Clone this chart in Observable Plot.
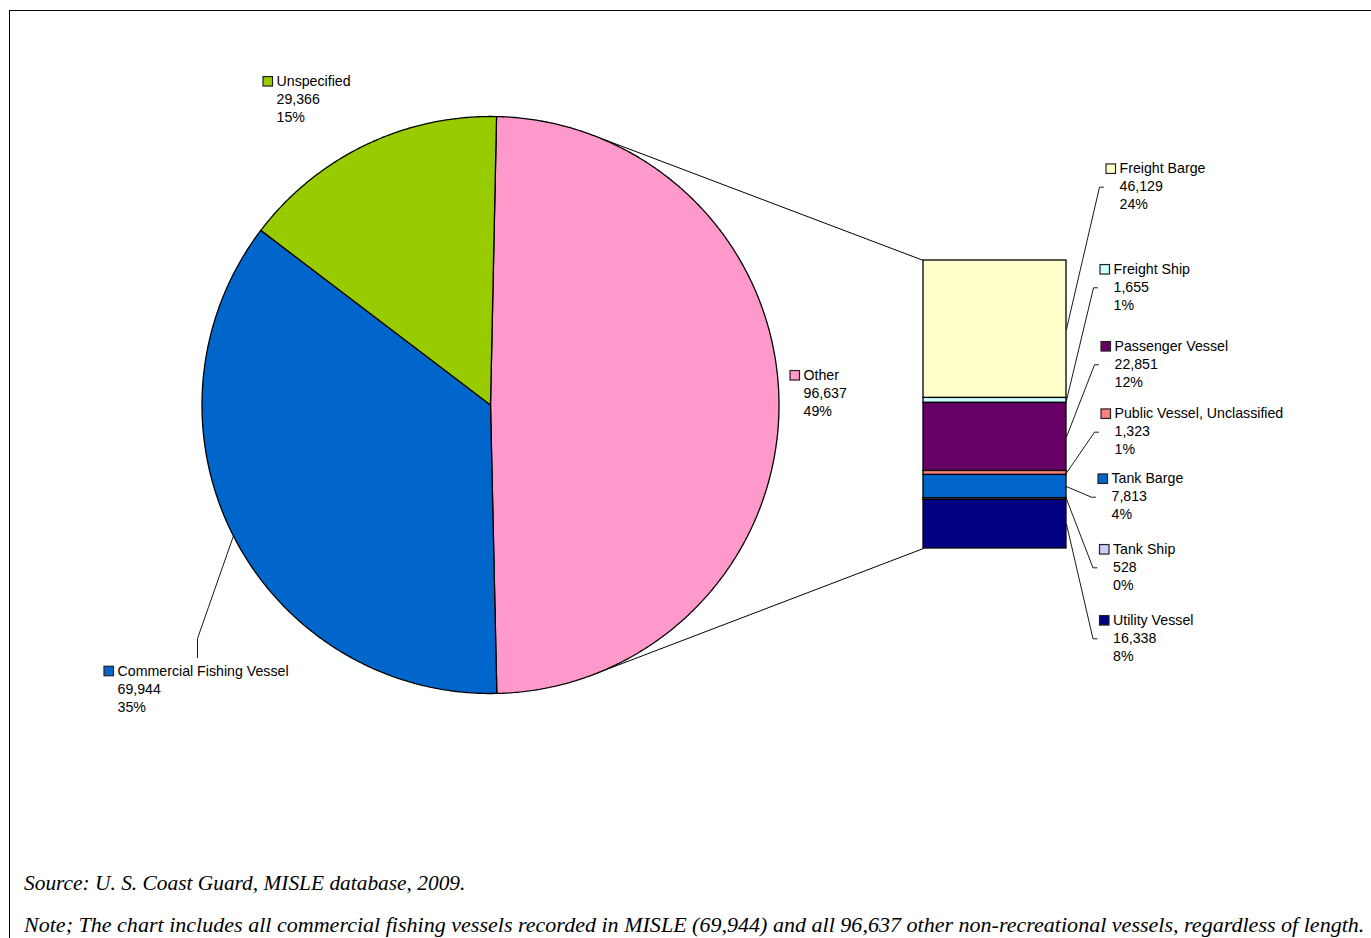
<!DOCTYPE html>
<html>
<head>
<meta charset="utf-8">
<script src="https://cdn.jsdelivr.net/npm/d3@7"></script>
<script src="https://cdn.jsdelivr.net/npm/@observablehq/plot@0.6"></script>
<style>
html, body { margin: 0; padding: 0; background: #fff; overflow: hidden; width: 1371px; height: 938px; }
#frame { position: absolute; left: 9px; top: 10px; width: 1400px; height: 1000px; border-top: 1px solid #000; border-left: 1px solid #000; }
#chart { position: absolute; left: 0; top: 0; }
.cap { position: absolute; left: 24px; font-family: "Liberation Serif", "Times New Roman", serif; font-style: italic; font-size: 21px; line-height: 24px; white-space: nowrap; color: #000; transform: scaleX(1.05); transform-origin: 0 50%; }
#source { transform: scaleX(1.018); }
</style>
</head>
<body>
<div id="frame"></div>
<div id="chart"></div>
<div class="cap" id="source" style="top:871px">Source: U. S. Coast Guard, MISLE database, 2009.</div>
<div class="cap" id="note" style="top:913px">Note; The chart includes all commercial fishing vessels recorded in MISLE (69,944) and all 96,637 other non-recreational vessels, regardless of length.</div>
<script>
// ---------- DATA ----------
const pieNames = ["Other", "Commercial Fishing Vessel", "Unspecified"];
const pieValues = [96637, 69944, 29366];
const piePct = ["49%", "35%", "15%"];

const barNames = ["Freight Barge", "Freight Ship", "Passenger Vessel", "Public Vessel, Unclassified", "Tank Barge", "Tank Ship", "Utility Vessel"];
const barValues = [46129, 1655, 22851, 1323, 7813, 528, 16338];
const barPct = ["24%", "1%", "12%", "1%", "4%", "0%", "8%"];

// ---------- STYLE ----------
const colors = {
  "Other": "#FF99CC",
  "Commercial Fishing Vessel": "#0066CC",
  "Unspecified": "#99CC00",
  "Freight Barge": "#FFFFCC",
  "Freight Ship": "#CCFFFF",
  "Passenger Vessel": "#660066",
  "Public Vessel, Unclassified": "#FF8080",
  "Tank Barge": "#0066CC",
  "Tank Ship": "#CCCCFF",
  "Utility Vessel": "#000080"
};

// ---------- LAYOUT ----------
const W = 1371, H = 860;
const pieL = {cx: 490, cy: 404.5, r: 288.5, start: 1.2, linkTop: 21, linkBottom: 160};
const barL = {x1: 923, x2: 1066, y1: 260, y2: 548};
const labelL = {
  "Unspecified": {x: 276, y: 99.3},
  "Other": {x: 803, y: 393.3},
  "Commercial Fishing Vessel": {x: 117, y: 689, leader: [[197, 638], [197, 657]]},
  "Freight Barge": {x: 1119, y: 186.7},
  "Freight Ship": {x: 1113, y: 287.3},
  "Passenger Vessel": {x: 1114, y: 364.3},
  "Public Vessel, Unclassified": {x: 1114, y: 431.7},
  "Tank Barge": {x: 1111, y: 496.7},
  "Tank Ship": {x: 1112.5, y: 567.3},
  "Utility Vessel": {x: 1112.5, y: 638.3}
};
const lineGap = 18;
const labelSize = 14.2;

// ---------- GEOMETRY FROM DATA ----------
const rad = (a) => a * Math.PI / 180;
const onPie = (a) => [pieL.cx + pieL.r * Math.sin(rad(a)), pieL.cy - pieL.r * Math.cos(rad(a))];
const pieTotal = d3.sum(pieValues);
const slicePts = [];
const sliceMid = {};
let a0 = pieL.start;
pieNames.forEach((n, i) => {
  const span = pieValues[i] / pieTotal * 360;
  sliceMid[n] = a0 + span / 2;
  slicePts.push({name: n, x: pieL.cx, y: pieL.cy});
  const steps = Math.ceil(span / 0.4);
  for (let k = 0; k <= steps; k++) {
    const [x, y] = onPie(a0 + span * k / steps);
    slicePts.push({name: n, x, y});
  }
  slicePts.push({name: n, x: pieL.cx, y: pieL.cy});
  a0 += span;
});

const barTotal = d3.sum(barValues);
const kBar = (barL.y2 - barL.y1) / barTotal;
let cum = 0;
const segs = barNames.map((n, i) => {
  const y1 = barL.y1 + cum * kBar;
  cum += barValues[i];
  const y2 = barL.y1 + cum * kBar;
  return {name: n, value: barValues[i], pct: barPct[i], y1, y2, mid: (y1 + y2) / 2};
});

const labels = [
  ...pieNames.map((n, i) => ({name: n, value: pieValues[i], pct: piePct[i]})),
  ...segs.map(s => ({name: s.name, value: s.value, pct: s.pct}))
].map(d => ({...d, x: labelL[d.name].x, y: labelL[d.name].y}));

const fmt = d3.format(",");

// leader lines
const leaders = [];
segs.forEach(s => {
  const L = labelL[s.name];
  leaders.push({id: s.name, x: barL.x2, y: s.mid});
  leaders.push({id: s.name, x: L.x - 20, y: L.y});
  leaders.push({id: s.name, x: L.x - 16, y: L.y});
});
{
  const n = "Commercial Fishing Vessel";
  const [px, py] = onPie(sliceMid[n]);
  leaders.push({id: n, x: px, y: py});
  labelL[n].leader.forEach(([x, y]) => leaders.push({id: n, x, y}));
}
// pie-to-bar connectors
const [tx, ty] = onPie(pieL.linkTop);
const [bx, by] = onPie(pieL.linkBottom);
const connectors = [
  {id: "top", x: tx, y: ty}, {id: "top", x: barL.x1, y: barL.y1},
  {id: "bottom", x: bx, y: by}, {id: "bottom", x: barL.x1, y: barL.y2}
];

const font = "'Liberation Sans', Arial, Helvetica, sans-serif";

const chart = Plot.plot({
  width: W,
  height: H,
  margin: 0,
  x: {domain: [0, W], range: [0, W], axis: null},
  y: {domain: [0, H], range: [0, H], axis: null},
  color: {type: "identity"},
  style: {background: "transparent", fontFamily: font, fontSize: `${labelSize}px`, overflow: "visible"},
  marks: [
    Plot.line(connectors, {x: "x", y: "y", z: "id", stroke: "#000", strokeWidth: 1, curve: "linear"}),
    Plot.line(slicePts, {x: "x", y: "y", z: "name", fill: d => colors[d.name], stroke: "#000", strokeWidth: 1.3, strokeLinejoin: "miter", curve: "linear"}),
    Plot.rect(segs, {x1: () => barL.x1, x2: () => barL.x2, y1: "y1", y2: "y2", fill: d => colors[d.name], stroke: "#000", strokeWidth: 1.3}),
    Plot.line(leaders, {x: "x", y: "y", z: "id", stroke: "#000", strokeWidth: 0.9, curve: "linear"}),
    Plot.rect(labels, {x1: d => d.x - 13, x2: d => d.x - 3.5, y1: d => d.y - lineGap - 4.75, y2: d => d.y - lineGap + 4.75, fill: d => colors[d.name], stroke: "#222", strokeWidth: 1.2}),
    Plot.text(labels, {x: "x", y: d => d.y - 1.5, text: d => `${d.name}\n${fmt(d.value)}\n${d.pct}`, textAnchor: "start", lineAnchor: "middle", lineHeight: lineGap / labelSize, fontSize: labelSize, fontFamily: font, fill: "#000"})
  ]
});
document.getElementById("chart").appendChild(chart);
</script>
</body>
</html>
